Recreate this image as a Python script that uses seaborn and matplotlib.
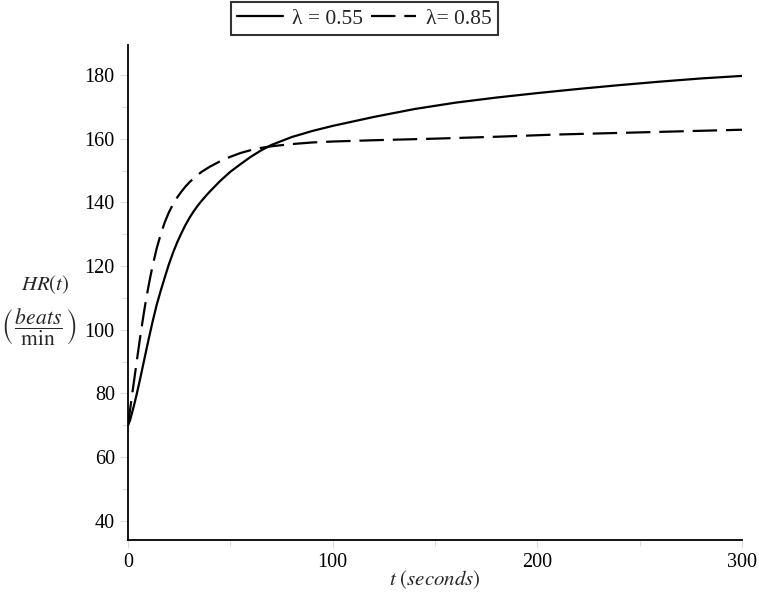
import matplotlib
matplotlib.use("Agg")
import matplotlib.pyplot as plt
import seaborn as sns
import pandas as pd
from matplotlib.ticker import MultipleLocator

# data
t_055 = [0, 1, 2, 3, 4, 5, 6, 7, 8, 9, 10, 12, 14, 16, 18, 20, 22, 24, 26, 28, 30, 32, 34,
         36, 38, 40, 45, 50, 55, 60, 65, 70, 80, 90, 100, 120, 140, 160, 180, 200, 220,
         240, 260, 280, 300]
hr_055 = [70, 71.6, 74.0, 76.4, 79.1, 81.9, 84.8, 87.8, 90.8, 93.8, 96.8, 102.5, 107.8,
          112.3, 116.5, 120.6, 124.2, 127.4, 130.2, 132.8, 135.1, 137.1, 138.9, 140.5,
          142.0, 143.4, 146.7, 149.6, 152.0, 154.3, 156.3, 158.0, 160.5, 162.4, 164.0,
          166.8, 169.3, 171.3, 172.9, 174.3, 175.6, 176.8, 177.9, 178.9, 179.7]
t_085 = [0, 1, 2, 3, 4, 5, 6, 7, 8, 9, 10, 11, 12, 14, 16, 18, 20, 22, 24, 26, 28, 30, 33,
         36, 40, 45, 50, 55, 60, 65, 70, 80, 90, 100, 120, 150, 180, 210, 240, 270, 300]
hr_085 = [70, 74.8, 79.6, 84.2, 88.8, 93.4, 97.9, 102.2, 106.3, 110.1, 113.6, 116.9, 120.0,
          125.5, 130.0, 133.8, 136.9, 139.4, 141.5, 143.3, 144.9, 146.3, 148.1, 149.6,
          151.2, 152.9, 154.3, 155.5, 156.4, 157.1, 157.6, 158.3, 158.8, 159.1, 159.5,
          160.0, 160.6, 161.3, 161.8, 162.3, 162.8]
labels = ["λ = 0.55", "λ= 0.85"]
y_ticks = [40, 60, 80, 100, 120, 140, 160, 180]
x_ticks = [0, 100, 200, 300]

df = pd.concat([
    pd.DataFrame({"t": t_055, "hr": hr_055, "lam": labels[0]}),
    pd.DataFrame({"t": t_085, "hr": hr_085, "lam": labels[1]}),
])

sns.set_theme(style="ticks")
plt.rcParams["font.family"] = ["Liberation Serif", "DejaVu Serif"]
plt.rcParams["mathtext.fontset"] = "stix"

fig = plt.figure(figsize=(7.59, 5.94), dpi=100)
ax = fig.add_axes([128 / 759, 1 - 540 / 594, (742 - 128) / 759, (540 - 45) / 594])

sns.lineplot(data=df, x="t", y="hr", style="lam", style_order=labels,
             dashes={labels[0]: "", labels[1]: (11, 4)}, color="black",
             linewidth=1.6, ax=ax, legend=True, sort=False)

ax.set_xlim(0, 300)
ax.set_ylim(34.0, 189.4)
ax.set_xticks(x_ticks)
ax.set_yticks(y_ticks)
ax.xaxis.set_minor_locator(MultipleLocator(50))
ax.yaxis.set_minor_locator(MultipleLocator(10))
ax.tick_params(axis="both", which="both", direction="out", color="#dddddd",
               labelsize=14.5, labelcolor="black")
ax.tick_params(which="major", length=6, width=0.8)
ax.tick_params(which="minor", length=4, width=0.8)
for s in ["top", "right"]:
    ax.spines[s].set_visible(False)
for s in ["left", "bottom"]:
    ax.spines[s].set_color("black")
    ax.spines[s].set_linewidth(1.3)

ax.set_xlabel("")
ax.set_ylabel("")
fig.text(435 / 759, 1 - 580 / 594, r"$t\ (seconds)$", fontsize=15, ha="center", va="center")
fig.text(45 / 759, 1 - 285 / 594, r"$HR(t)$", fontsize=15, ha="center", va="center")
fig.text(39 / 759, 1 - 327 / 594, r"$\left(\,\dfrac{beats}{\mathrm{min}}\,\right)$",
         fontsize=15.5, ha="center", va="center")

leg = ax.legend(loc="upper center", bbox_to_anchor=(364.5 / 759, 1 - 2 / 594),
                bbox_transform=fig.transFigure, ncol=2, frameon=True, fancybox=False,
                edgecolor="black", fontsize=15.5, handlelength=2.1, columnspacing=0.35,
                handletextpad=0.45, borderpad=0.3, borderaxespad=0, title=None)
leg.get_frame().set_linewidth(1.5)

fig.savefig("out.png", dpi=100, facecolor="white")
